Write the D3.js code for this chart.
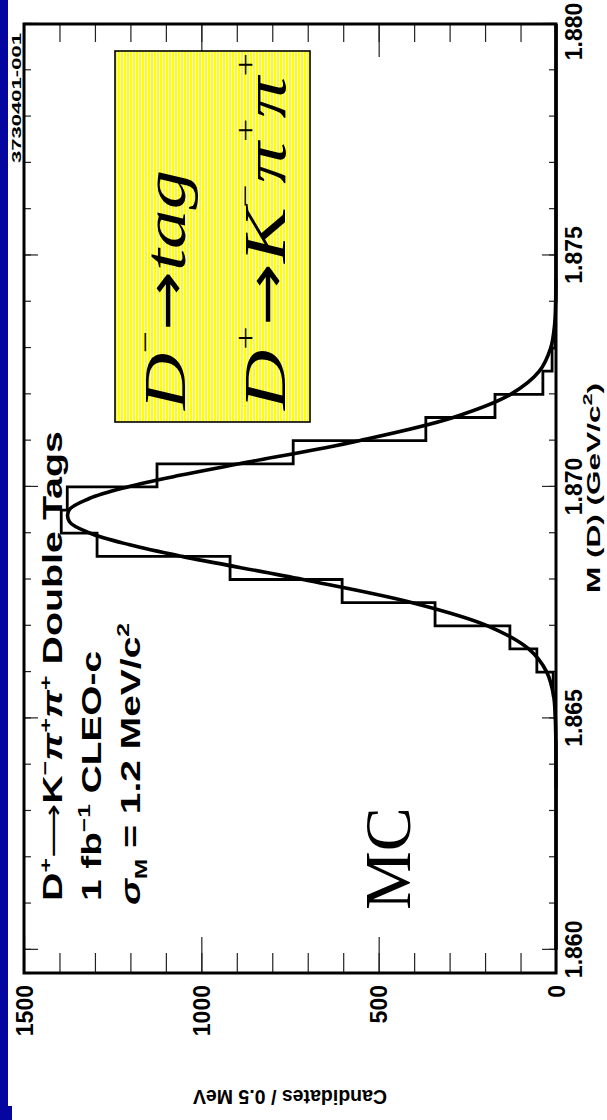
<!DOCTYPE html>
<html>
<head>
<meta charset="utf-8">
<script src="https://cdn.jsdelivr.net/npm/d3@7"></script>
<style>
  body { margin: 0; background: #fff; }
  svg { display: block; }
  .sans { font-family: "Liberation Sans", Arial, Helvetica, sans-serif; font-weight: bold; fill: #000; }
  .serif { font-family: "Liberation Serif", "Times New Roman", serif; fill: #000; }
  .arrow { font-family: "DejaVu Sans", sans-serif; font-weight: normal; }
</style>
</head>
<body>
<div id="chart"></div>
<script>
// histogram: lower bin edges (GeV/c^2), bins are 0.5 MeV wide
const massBins = [1.8635, 1.8640, 1.8645, 1.8650, 1.8655, 1.8660, 1.8665, 1.8670, 1.8675, 1.8680, 1.8685,
                  1.8690, 1.8695, 1.8700, 1.8705, 1.8710, 1.8715, 1.8720, 1.8725, 1.8730, 1.8735, 1.8740];
const candidates = [0, 0, 1, 2, 8, 54, 130, 341, 603, 919, 1294,
                    1395, 1378, 1125, 741, 367, 172, 37, 11, 3, 1, 0];

// fitted curve
const fitMass = [1.8600, 1.8620, 1.8635, 1.8640, 1.8645, 1.8650, 1.8655, 1.8660, 1.8665, 1.8670, 1.8675, 1.8680,
                 1.8685, 1.86875, 1.8690, 1.86925, 1.8695, 1.86975, 1.8700, 1.87025, 1.8705, 1.8710, 1.8715,
                 1.8720, 1.8725, 1.8730, 1.8735, 1.8740, 1.8745, 1.8760, 1.8800];
const fitValues = [0, 0, 0, 0.1, 0.4, 2, 7, 26, 77, 193, 405, 713,
                   1055, 1202, 1313, 1372, 1373, 1316, 1208, 1061, 893, 555, 290,
                   128, 47, 15, 4, 1, 0.2, 0, 0];

const massTicks = [1.860, 1.865, 1.870, 1.875, 1.880];
const countTicks = [0, 500, 1000, 1500];

const binWidth = 0.0005;
// the plot is drawn unrotated, then turned a quarter turn
const W = 949, H = 532;

const svg = d3.select("#chart").append("svg")
    .attr("width", 607)
    .attr("height", 1120);

const defs = svg.append("defs");
const hatch = defs.append("pattern")
    .attr("id", "hatch")
    .attr("patternUnits", "userSpaceOnUse")
    .attr("width", 8)
    .attr("height", 3);
hatch.append("rect").attr("width", 8).attr("height", 3).attr("fill", "#ffff00");
hatch.append("rect").attr("width", 8).attr("height", 1).attr("fill", "#ffffff");

// blue slide border
svg.append("rect").attr("x", 0).attr("y", 0).attr("width", 8).attr("height", 1120).attr("fill", "#0505a0");
svg.append("rect").attr("x", 0).attr("y", 1106).attr("width", 12).attr("height", 14).attr("fill", "#0505a0");

const g = svg.append("g")
    .attr("transform", "translate(24,973) rotate(-90)");

const x = d3.scaleLinear().domain([1.8595, 1.880]).range([0, W]);
const y = d3.scaleLinear().domain([0, 1500]).range([H, 0]);

// ticks
const minorMass = d3.range(1.860, 1.8805, 0.001);
const minorCount = d3.range(0, 1501, 100);

function styleAxis(sel) {
    sel.select(".domain").remove();
    sel.selectAll(".tick line").attr("stroke", "#222").attr("stroke-width", 1.2);
}

g.append("g").attr("transform", `translate(0,${H})`)
    .call(d3.axisBottom(x).tickValues(minorMass).tickSize(-7).tickFormat(""))
    .call(styleAxis);
g.append("g").attr("transform", `translate(0,${H})`)
    .call(d3.axisBottom(x).tickValues(massTicks).tickSize(-14).tickPadding(8).tickFormat(d3.format(".3f")))
    .call(styleAxis)
    .selectAll("text")
    .attr("class", "sans")
    .attr("y", 26)
    .attr("dy", 0)
    .attr("dx", d => d === 1.880 ? -8 : 0)
    .style("font-size", "23px");

g.append("g")
    .call(d3.axisTop(x).tickValues(minorMass).tickSize(-7).tickFormat(""))
    .call(styleAxis);
g.append("g")
    .call(d3.axisTop(x).tickValues(massTicks).tickSize(-14).tickFormat(""))
    .call(styleAxis);

g.append("g")
    .call(d3.axisLeft(y).tickValues(minorCount).tickSize(-20).tickFormat(""))
    .call(styleAxis);
g.append("g")
    .call(d3.axisLeft(y).tickValues(countTicks).tickSize(-36).tickFormat(d3.format("d")))
    .call(styleAxis)
    .selectAll("text")
    .attr("class", "sans")
    .attr("x", -12)
    .attr("dy", "0.36em")
    .style("font-size", "23px");

g.append("g").attr("transform", `translate(${W},0)`)
    .call(d3.axisRight(y).tickValues(minorCount).tickSize(-18).tickFormat(""))
    .call(styleAxis);
g.append("g").attr("transform", `translate(${W},0)`)
    .call(d3.axisRight(y).tickValues(countTicks).tickSize(-33).tickFormat(""))
    .call(styleAxis);

// histogram outline
const histPts = massBins.map((m, i) => [m, candidates[i]]);
histPts.push([massBins[massBins.length - 1] + binWidth, 0]);
const histLine = d3.line()
    .x(d => x(d[0]))
    .y(d => y(d[1]))
    .curve(d3.curveStepAfter);
g.append("path")
    .datum(histPts)
    .attr("d", histLine)
    .attr("fill", "none")
    .attr("stroke", "#000")
    .attr("stroke-width", 2.8);

// fit
const fitLine = d3.line()
    .x((d, i) => x(fitMass[i]))
    .y(d => y(d))
    .curve(d3.curveCatmullRom.alpha(0.5));
g.append("path")
    .datum(fitValues)
    .attr("d", fitLine)
    .attr("fill", "none")
    .attr("stroke", "#000")
    .attr("stroke-width", 3.6);

// frame
g.append("rect")
    .attr("width", W)
    .attr("height", H)
    .attr("fill", "none")
    .attr("stroke", "#000")
    .attr("stroke-width", 3);

// axis titles
g.append("text")
    .attr("class", "sans")
    .attr("x", 485)
    .attr("y", H + 44)
    .attr("text-anchor", "middle")
    .attr("textLength", 210)
    .attr("lengthAdjust", "spacingAndGlyphs")
    .style("font-size", "19px")
    .html('M (D) (GeV/c<tspan dy="-8" font-size="13">2</tspan><tspan dy="8">)</tspan>');

g.append("text")
    .attr("class", "sans")
    .attr("transform", `translate(-117,${H / 2}) rotate(-90)`)
    .attr("text-anchor", "middle")
    .style("font-size", "19.5px")
    .text("Candidates / 0.5 MeV");

g.append("text")
    .attr("class", "sans")
    .attr("x", 810)
    .attr("y", -3)
    .attr("textLength", 130)
    .attr("lengthAdjust", "spacingAndGlyphs")
    .style("font-size", "12px")
    .text("3730401-001");

// labels inside the plot
g.append("text")
    .attr("class", "sans")
    .attr("x", 72).attr("y", 38)
    .attr("textLength", 470)
    .attr("lengthAdjust", "spacingAndGlyphs")
    .style("font-size", "27px")
    .html('D<tspan dy="-11" font-size="17">+</tspan><tspan dy="11" class="arrow" font-size="26">\u27f6</tspan><tspan>K</tspan>' +
          '<tspan dy="-11" font-size="17">\u2212</tspan><tspan dy="11" font-style="italic">\u03c0</tspan>' +
          '<tspan dy="-11" font-size="17">+</tspan><tspan dy="11" font-style="italic">\u03c0</tspan>' +
          '<tspan dy="-11" font-size="17">+</tspan><tspan dy="11">  Double Tags</tspan>');

g.append("text")
    .attr("class", "sans")
    .attr("x", 72).attr("y", 77)
    .attr("textLength", 250)
    .attr("lengthAdjust", "spacingAndGlyphs")
    .style("font-size", "27px")
    .html('1 fb<tspan dy="-11" font-size="17">\u22121</tspan><tspan dy="11"> CLEO-c</tspan>');

g.append("text")
    .attr("class", "sans")
    .attr("x", 68).attr("y", 116)
    .attr("textLength", 282)
    .attr("lengthAdjust", "spacingAndGlyphs")
    .style("font-size", "27px")
    .html('<tspan font-style="italic">\u03c3</tspan><tspan dy="7" font-size="17">M</tspan>' +
          '<tspan dy="-7"> = 1.2 MeV/c</tspan><tspan dy="-11" font-size="17">2</tspan>');

// yellow box
g.append("rect")
    .attr("x", 551).attr("y", 91)
    .attr("width", 371).attr("height", 195)
    .attr("fill", "url(#hatch)")
    .attr("stroke", "#000")
    .attr("stroke-width", 1.6);

g.append("text")
    .attr("class", "serif")
    .attr("x", 563).attr("y", 161)
    .attr("textLength", 240)
    .attr("lengthAdjust", "spacingAndGlyphs")
    .style("font-size", "60px")
    .html('<tspan font-style="italic">D</tspan><tspan dy="-30" font-size="30">\u2212</tspan>' +
          '<tspan dy="30" class="arrow" font-size="54">\u2192</tspan><tspan font-style="italic">tag</tspan>');

g.append("text")
    .attr("class", "serif")
    .attr("x", 563).attr("y", 261)
    .attr("textLength", 357)
    .attr("lengthAdjust", "spacingAndGlyphs")
    .style("font-size", "60px")
    .html('<tspan font-style="italic">D</tspan><tspan dy="-30" font-size="30">+</tspan>' +
          '<tspan dy="30" class="arrow" font-size="54">\u2192</tspan><tspan font-style="italic">K</tspan>' +
          '<tspan dy="-30" font-size="30">\u2212</tspan><tspan dy="30" font-style="italic">\u03c0</tspan>' +
          '<tspan dy="-30" font-size="30">+</tspan><tspan dy="30" font-style="italic">\u03c0</tspan>' +
          '<tspan dy="-30" font-size="30">+</tspan>');

g.append("text")
    .attr("class", "serif")
    .attr("x", 63).attr("y", 386)
    .style("font-size", "66px")
    .text("MC");
</script>
</body>
</html>
